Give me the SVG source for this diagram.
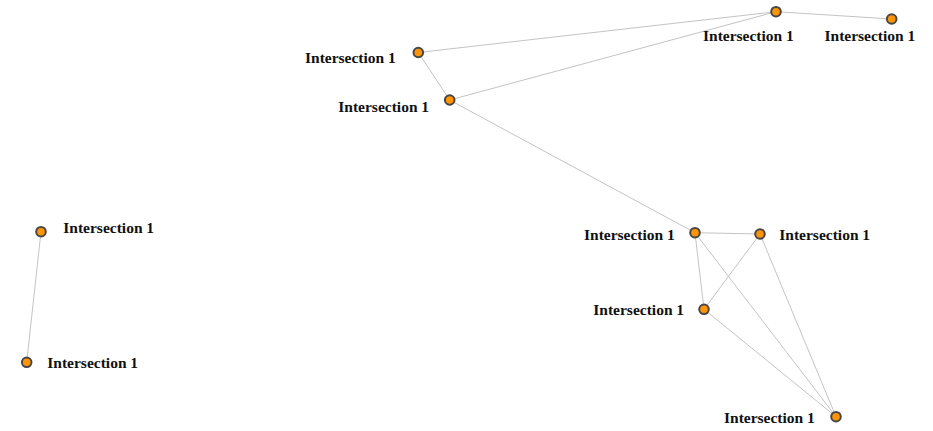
<svg xmlns="http://www.w3.org/2000/svg" width="933" height="431" viewBox="0 0 933 431">
<style>
.edge{stroke:#c4c4c4;stroke-width:1;fill:none}
.node circle{fill:#ff9505;stroke:#474747;stroke-width:2}
.node text{font-family:"Liberation Serif","Times New Roman",serif;font-weight:bold;font-size:15.5px;fill:#111}
</style>
<rect width="933" height="431" fill="#ffffff"/>
<g id="connectors">
<line class="edge" x1="418.3" y1="52.5" x2="776" y2="11.7"/>
<line class="edge" x1="449.7" y1="100" x2="776" y2="11.7"/>
<line class="edge" x1="776" y1="11.7" x2="891.7" y2="19"/>
<line class="edge" x1="418.3" y1="52.5" x2="449.7" y2="100"/>
<line class="edge" x1="449.7" y1="100" x2="695" y2="232.7"/>
<line class="edge" x1="695" y1="232.7" x2="760" y2="234"/>
<line class="edge" x1="695" y1="232.7" x2="704" y2="309.3"/>
<line class="edge" x1="695" y1="232.7" x2="836" y2="416.7"/>
<line class="edge" x1="760" y1="234" x2="704" y2="309.3"/>
<line class="edge" x1="760" y1="234" x2="836" y2="416.7"/>
<line class="edge" x1="704" y1="309.3" x2="836" y2="416.7"/>
<line class="edge" x1="41" y1="231.7" x2="26.7" y2="362.3"/>
</g>
<g id="n1" class="node"><circle cx="776" cy="11.7" r="4.8"/><text x="703" y="40.5">Intersection 1</text></g>
<g id="n2" class="node"><circle cx="891.7" cy="19" r="4.8"/><text x="824.5" y="40.5">Intersection 1</text></g>
<g id="n3" class="node"><circle cx="418.3" cy="52.5" r="4.8"/><text x="305" y="62.7">Intersection 1</text></g>
<g id="n4" class="node"><circle cx="449.7" cy="100" r="4.8"/><text x="338.3" y="111.7">Intersection 1</text></g>
<g id="n5" class="node"><circle cx="41" cy="231.7" r="4.8"/><text x="63.3" y="232.7">Intersection 1</text></g>
<g id="n6" class="node"><circle cx="26.7" cy="362.3" r="4.8"/><text x="47.3" y="367.7">Intersection 1</text></g>
<g id="n7" class="node"><circle cx="695" cy="232.7" r="4.8"/><text x="584" y="239.5">Intersection 1</text></g>
<g id="n8" class="node"><circle cx="760" cy="234" r="4.8"/><text x="779.3" y="239.5">Intersection 1</text></g>
<g id="n9" class="node"><circle cx="704" cy="309.3" r="4.8"/><text x="593.3" y="315">Intersection 1</text></g>
<g id="n10" class="node"><circle cx="836" cy="416.7" r="4.8"/><text x="724" y="422.7">Intersection 1</text></g>
</svg>
